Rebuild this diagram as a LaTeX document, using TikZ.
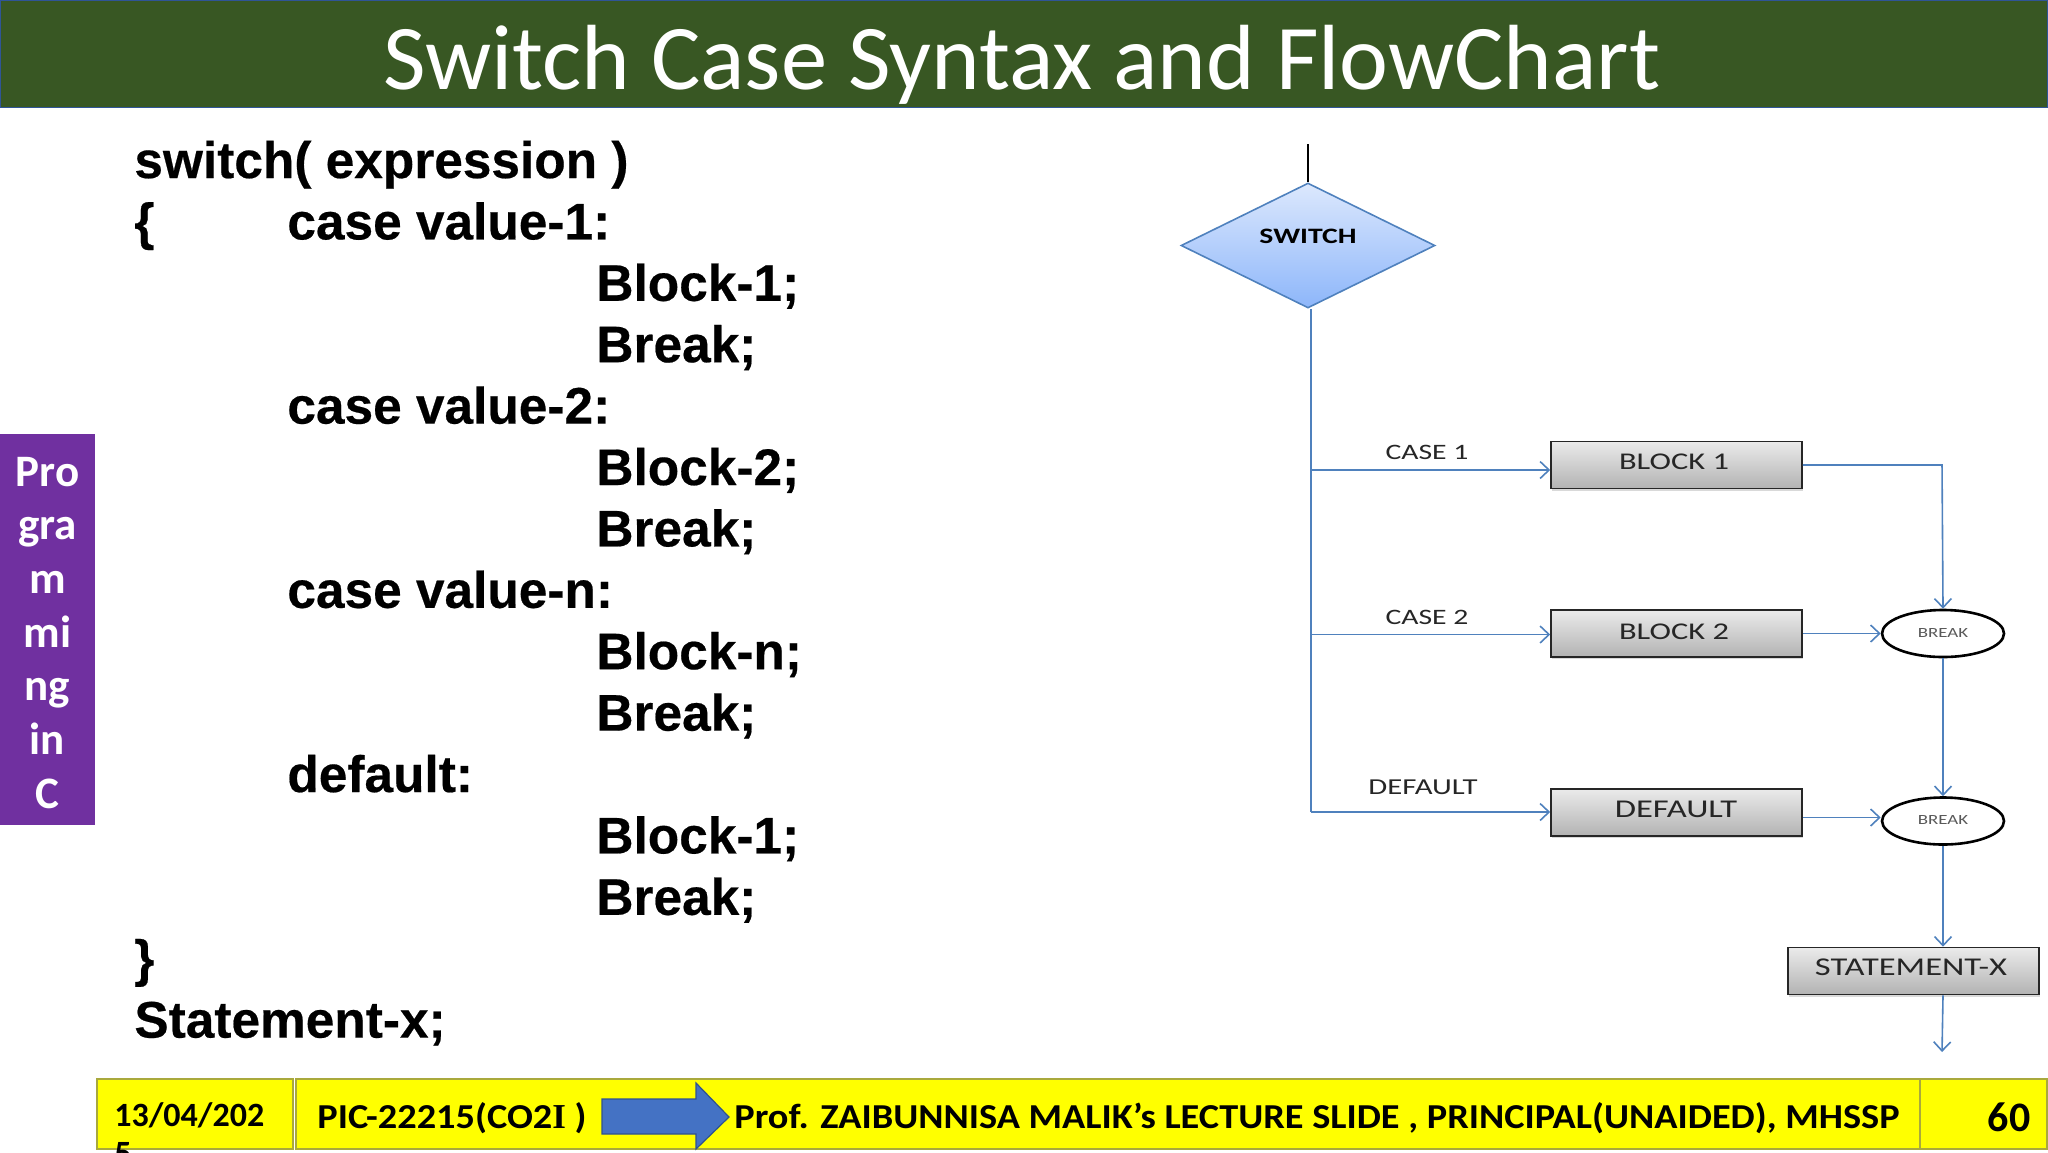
\documentclass[tikz,border=0pt]{standalone}
\usepackage{fontspec}
\setmainfont{Carlito}
\newfontfamily\codefont[FakeBold=0.4]{Liberation Sans}
\newfontfamily\flowfont[FakeStretch=1.35]{Carlito}
\newfontfamily\footfont[FakeStretch=1.095]{Carlito}
\newfontfamily\serifI{Liberation Serif}
\usetikzlibrary{arrows.meta, shapes.geometric, shadows, positioning}
\definecolor{titlegreen}{HTML}{385723}
\definecolor{titleline}{HTML}{2F5597}
\definecolor{barpurple}{HTML}{7030A0}
\definecolor{flowblue}{HTML}{4F81BD}
\definecolor{footline}{HTML}{A9A93C}
\definecolor{footyellow}{HTML}{FFFF00}
\definecolor{arrowblue}{HTML}{4472C4}
\definecolor{arrowline}{HTML}{2F528F}
\definecolor{diamondtop}{HTML}{DCE8FD}
\definecolor{diamondbottom}{HTML}{8DB6FA}
\tikzset{
    flow/.style={draw=flowblue, line width=0.8pt, -{Straight Barb[length=4.5pt,width=8.5pt]}},
    block/.style={draw=black!85, line width=0.8pt, rectangle, top color=black!8, bottom color=black!30,
        minimum width=125.5pt, minimum height=23.5pt, inner sep=0pt,
        drop shadow={shadow xshift=0.5pt, shadow yshift=-1pt, opacity=0.3}},
    blocktext/.style={inner sep=0pt, font=\flowfont\fontsize{12}{12}\selectfont, text=black!85},
    stopper/.style={draw=black, line width=1.3pt, ellipse, fill=white, minimum width=61pt, minimum height=23.5pt,
        inner sep=0pt, font=\flowfont\fontsize{7}{7}\selectfont, text=black!65},
    caselabel/.style={inner sep=0pt, font=\flowfont\fontsize{11}{11}\selectfont, text=black!85},
    code/.style={anchor=base west, inner sep=0pt, font=\codefont\bfseries\fontsize{25.7}{25.7}\selectfont, text=black},
    sideitem/.style={anchor=base, inner sep=0pt, text=white, font=\bfseries\fontsize{22.5}{22.5}\selectfont},
    footbox/.style={draw=footline, line width=0.7pt, fill=footyellow, minimum height=35pt, inner sep=0pt},
    foottext/.style={inner sep=0pt, font=\footfont\bfseries\fontsize{17.5}{19}\selectfont}
}
\begin{document}
\begin{tikzpicture}[x=0.5pt, y=-0.5pt]
    \useasboundingbox (0,0) rectangle (2048,1152);

    % title
    \node[draw=titleline, line width=0.6pt, fill=titlegreen, minimum width=1024pt, minimum height=53.5pt, inner sep=0pt] (titlebar) at (1024,54) {};
    \node[inner sep=0pt, text=white, font=\fontsize{46.3}{46.3}\selectfont] (title) at (1022,65) {Switch Case Syntax and FlowChart};

    % side bar
    \node[fill=barpurple, minimum width=47.5pt, minimum height=195.5pt, inner sep=0pt] (sidebar) at (47.5,629.5) {};
    \foreach \n/\txt [count=\i from 0] in {a/Pro, b/gra, c/m, d/mi, e/ng, f/in, g/C}
        \node[sideitem] (side\n) at (47.5,{486+53.7*\i}) {\txt};

    % code
    \foreach \x/\txt [count=\i from 0] in {134/switch( expression ), 287/case value-1:, 596/Block-1;, 596/Break;,
        287/case value-2:, 596/Block-2;, 596/Break;, 287/case value-n:, 596/Block-n;, 596/Break;,
        287/default:, 596/Block-1;, 596/Break;, 134/\}, 134/Statement-x;}
        \node[code] (code\i) at (\x,{178+61.4*\i}) {\txt};
    \node[code] (brace) at (134,239.4) {\{};

    % flow chart
    \node[diamond, draw=flowblue, line width=0.8pt, top color=diamondtop, bottom color=diamondbottom,
        minimum width=127pt, minimum height=62.5pt, inner sep=0pt] (switch) at (1308,245.5) {};
    \node[inner sep=0pt, font=\flowfont\bfseries\fontsize{11}{11}\selectfont] (switchtext) at (1308,236) {SWITCH};
    \coordinate (start) at (1308,144);
    \coordinate (c1) at (1311,470);
    \coordinate (c2) at (1311,634.5);
    \coordinate (c3) at (1311,812);
    \coordinate (turn) at (1942,465);

    \node[block] (b1) at (1676.5,465) {};
    \node[block] (b2) at (1676.5,633.5) {};
    \node[block] (b3) at (1676.5,812.5) {};
    \node[block] (sx) at (1913.5,971) {};
    \node[stopper] (k1) at (1943,633.5) {\raisebox{0.5pt}{BREAK}};
    \node[stopper] (k2) at (1943,821) {\raisebox{1.5pt}{BREAK}};
    \coordinate (end) at (1942,1052);

    \node[blocktext] (t1) at (1674,462) {BLOCK 1};
    \node[blocktext] (t2) at (1674,632) {BLOCK 2};
    \node[blocktext, font=\flowfont\fontsize{12.8}{13}\selectfont] (t3) at (1676,809) {DEFAULT};
    \node[blocktext, font=\flowfont\fontsize{12.8}{13}\selectfont] (t4) at (1911,967) {STATEMENT-X};
    \node[caselabel] (l1) at (1427,452) {CASE 1};
    \node[caselabel] (l2) at (1427,617) {CASE 2};
    \node[caselabel, font=\flowfont\fontsize{11.4}{12}\selectfont] (l3) at (1423,787) {DEFAULT};

    \draw[black, line width=0.8pt] (start) -- (switch.north);
    \draw[draw=flowblue, line width=0.8pt] (switch.south -| c3) -- (c3);
    \draw[flow] (c1) -- (b1.west |- c1);
    \draw[flow] (c2) -- (b2.west |- c2);
    \draw[flow] (c3) -- (b3.west |- c3);
    \draw[flow] (b1.east) -- (turn) -- (k1.north);
    \draw[flow] (b2.east |- k1) -- (k1.west);
    \draw[flow] (b3.east |- 0,817.5) -- (k2.west |- 0,817.5);
    \draw[flow] (k1.south) -- (k2.north);
    \draw[flow] (k2.south) -- (k2.south |- sx.north);
    \draw[flow] (k2.south |- sx.south) -- (end);

    % footer
    \node[footbox, minimum width=98pt] (datebox) at (195,1114) {};
    \node[footbox, minimum width=812pt] (mainbox) at (1108,1114) {};
    \node[footbox, minimum width=63.5pt] (pagebox) at (1983.5,1114) {};
    \node[inner sep=0pt, font=\bfseries\fontsize{17}{19}\selectfont, anchor=north west, align=left, text width=90pt] (date) at (114,1102) {13/04/202\\5};
    \node[foottext, anchor=base west] (course) at (317,1128) {PIC-22215(CO2{\serifI I} )};
    \draw[draw=arrowline, line width=0.6pt, fill=arrowblue] (602,1099) -- (696,1099) -- (696,1083) -- (729,1117) -- (696,1149) -- (696,1134) -- (602,1134) -- cycle;
    \node[foottext, anchor=base west] (lecturer) at (734,1128) {Prof. ZAIBUNNISA MALIK’s LECTURE SLIDE , PRINCIPAL(UNAIDED), MHSSP};
    \node[inner sep=0pt, font=\bfseries\fontsize{21}{21}\selectfont] (pageno) at (2009,1117) {60};
\end{tikzpicture}
\end{document}
